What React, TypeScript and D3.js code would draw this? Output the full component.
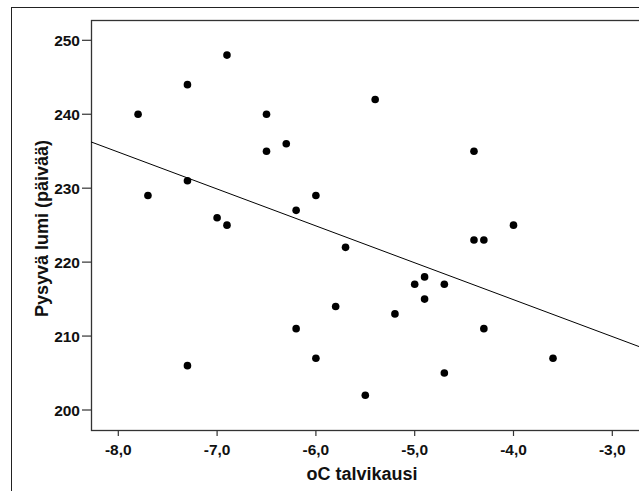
import React from "react";
import * as d3 from "d3";

const temperature = [
  -7.8, -7.7, -7.3, -7.3, -7.3, -7.0, -6.9, -6.9, -6.5, -6.5, -6.3, -6.2, -6.2, -6.0, -6.0, -5.7,
  -5.8, -5.4, -5.5, -5.2, -5.0, -4.9, -4.9, -4.7, -4.7, -4.4, -4.4, -4.3, -4.3, -4.0, -3.6,
];
const snowDays = [
  240, 229, 244, 231, 206, 226, 248, 225, 240, 235, 236, 227, 211, 229, 207, 222,
  214, 242, 202, 213, 217, 218, 215, 217, 205, 235, 223, 223, 211, 225, 207,
];
const xTicks = [-8, -7, -6, -5, -4, -3];
const yTicks = [200, 210, 220, 230, 240, 250];
const fitIntercept = 194.96;
const fitSlope = -4.99;
const xTitle = "oC talvikausi";
const yTitle = "Pysyvä lumi (päivää)";

const W = 639;
const H = 491;
const plot = { left: 91, top: 20, right: 660, bottom: 430 };

export default function App() {
  const x = d3.scaleLinear().domain([-8, -3]).range([118.3, 612.3]);
  const y = d3.scaleLinear().domain([200, 250]).range([410, 40.3]);
  const fmt = (v: number) => v.toFixed(1).replace(".", ",");
  const x0 = x.invert(plot.left);
  const x1 = x.invert(plot.right);
  const line = d3
    .line<number>()
    .x((d) => x(d))
    .y((d) => y(fitIntercept + fitSlope * d));
  const font = "'Liberation Sans', Arial, sans-serif";
  return (
    <svg
      width={W}
      height={H}
      style={{ position: "absolute", left: 0, top: 0, background: "#fff" }}
      fontFamily={font}
    >
      <rect x={0} y={0} width={W} height={H} fill="#fff" />
      <rect x={11.5} y={7.5} width={W + 20} height={H + 20} fill="none" stroke="#222" strokeWidth={1} />
      <clipPath id="pa">
        <rect x={plot.left} y={plot.top} width={plot.right - plot.left} height={plot.bottom - plot.top} />
      </clipPath>
      <rect
        x={plot.left + 0.5}
        y={plot.top + 0.5}
        width={plot.right - plot.left}
        height={plot.bottom - plot.top}
        fill="none"
        stroke="#333"
        strokeWidth={1.3}
      />
      <g clipPath="url(#pa)">
        <path d={line([x0, x1]) || ""} fill="none" stroke="#000" strokeWidth={1} />
        {temperature.map((t, i) => (
          <circle key={i} cx={x(t)} cy={y(snowDays[i])} r={3.8} fill="#000" />
        ))}
      </g>
      {xTicks.map((t) => (
        <g key={t}>
          <line x1={x(t)} x2={x(t)} y1={plot.bottom} y2={plot.bottom + 6} stroke="#333" strokeWidth={1.2} />
          <text x={x(t)} y={455} textAnchor="middle" fontSize={15.5} fontWeight="bold" fill="#111">
            {fmt(t)}
          </text>
        </g>
      ))}
      {yTicks.map((t) => (
        <g key={t}>
          <line x1={plot.left - 9} x2={plot.left} y1={y(t)} y2={y(t)} stroke="#333" strokeWidth={1.2} />
          <text x={80} y={y(t) + 5.5} textAnchor="end" fontSize={15.5} fontWeight="bold" fill="#111">
            {t}
          </text>
        </g>
      ))}
      <text x={362} y={480} textAnchor="middle" fontSize={18} fontWeight="bold" fill="#111">
        {xTitle}
      </text>
      <text
        transform="translate(48,228.5) rotate(-90)"
        textAnchor="middle"
        fontSize={18}
        fontWeight="bold"
        fill="#111"
      >
        {yTitle}
      </text>
    </svg>
  );
}
